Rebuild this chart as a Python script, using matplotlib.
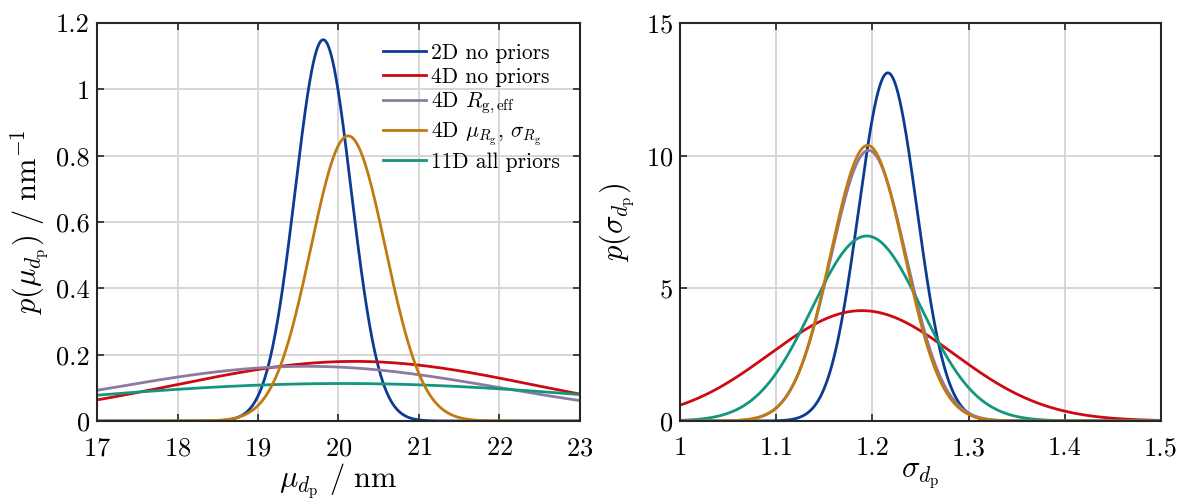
import matplotlib
matplotlib.use("Agg")
import matplotlib.pyplot as plt
import numpy as np

plt.rcParams['font.family'] = 'serif'
plt.rcParams['font.serif'] = ['cmr10']
plt.rcParams['mathtext.fontset'] = 'cm'
plt.rcParams['axes.formatter.use_mathtext'] = True

# posterior summaries (mean, std) for each inference case
labels = ['2D no priors', '4D no priors', r'4D $R_\mathrm{g,eff}$',
          r'4D $\mu_{R_\mathrm{g}}$, $\sigma_{R_\mathrm{g}}$', '11D all priors']
colors = ['#0c3c92', '#cc0a14', '#8c7aa0', '#c07a10', '#12967e']

mu_mean = [19.81, 20.20, 19.60, 20.12, 20.05]
mu_std = [0.347, 2.22, 2.42, 0.464, 3.53]

sg_mean = [1.216, 1.189, 1.196, 1.195, 1.194]
sg_std = [0.0304, 0.0959, 0.0391, 0.0384, 0.0572]

# draw order so the orange sits on top of the purple
order = [0, 1, 2, 4, 3]


def normal_pdf(x, m, s):
    return np.exp(-0.5 * ((x - m) / s) ** 2) / (s * np.sqrt(2 * np.pi))


fig = plt.figure(figsize=(11.86, 5.01), dpi=100)
ax1 = fig.add_axes([0.0818, 0.1597, 0.4072, 0.7943])
ax2 = fig.add_axes([0.5734, 0.1597, 0.4056, 0.7943])

x1 = np.linspace(17, 23, 1200)
x2 = np.linspace(1.0, 1.5, 1200)
for i in order:
    ax1.plot(x1, normal_pdf(x1, mu_mean[i], mu_std[i]), color=colors[i], lw=2.0)
    ax2.plot(x2, normal_pdf(x2, sg_mean[i], sg_std[i]), color=colors[i], lw=2.0)

handles = [plt.Line2D([], [], color=c, lw=2.0) for c in colors]
ax1.legend(handles, labels, loc='upper right', bbox_to_anchor=(1.0, 1.0),
           frameon=False, fontsize=15.5, handlelength=2.0, handletextpad=0.2,
           labelspacing=0.2, borderaxespad=0.55)

ax1.set_xlim(17, 23)
ax1.set_ylim(0, 1.2)
ax1.set_xticks(np.arange(17, 24, 1))
ax1.set_yticks(np.arange(0, 1.21, 0.2))
ax1.set_yticklabels(['0', '0.2', '0.4', '0.6', '0.8', '1', '1.2'])
ax1.set_xlabel(r'$\mu_{d_\mathrm{p}}\ /\ \mathrm{nm}$', fontsize=22, labelpad=1)
ax1.set_ylabel(r'$p(\mu_{d_\mathrm{p}})\ /\ \mathrm{nm}^{-1}$', fontsize=22, labelpad=4)

ax2.set_xlim(1.0, 1.5)
ax2.set_ylim(0, 15)
ax2.set_xticks([1.0, 1.1, 1.2, 1.3, 1.4, 1.5])
ax2.set_xticklabels(['1', '1.1', '1.2', '1.3', '1.4', '1.5'])
ax2.set_yticks([0, 5, 10, 15])
ax2.set_xlabel(r'$\sigma_{d_\mathrm{p}}$', fontsize=22, labelpad=1)
ax2.set_ylabel(r'$p(\sigma_{d_\mathrm{p}})$', fontsize=22, labelpad=6)

for ax in (ax1, ax2):
    ax.grid(True, color='#d6d6d6', lw=1.4)
    ax.set_axisbelow(True)
    ax.tick_params(direction='in', top=True, right=True, length=5,
                   width=1.2, labelsize=19, color='#262626')
    ax.tick_params(axis='x', pad=11)
    ax.tick_params(axis='y', pad=5)
    for sp in ax.spines.values():
        sp.set_linewidth(1.5)
        sp.set_color('#262626')

fig.savefig('out.png', dpi=100)
